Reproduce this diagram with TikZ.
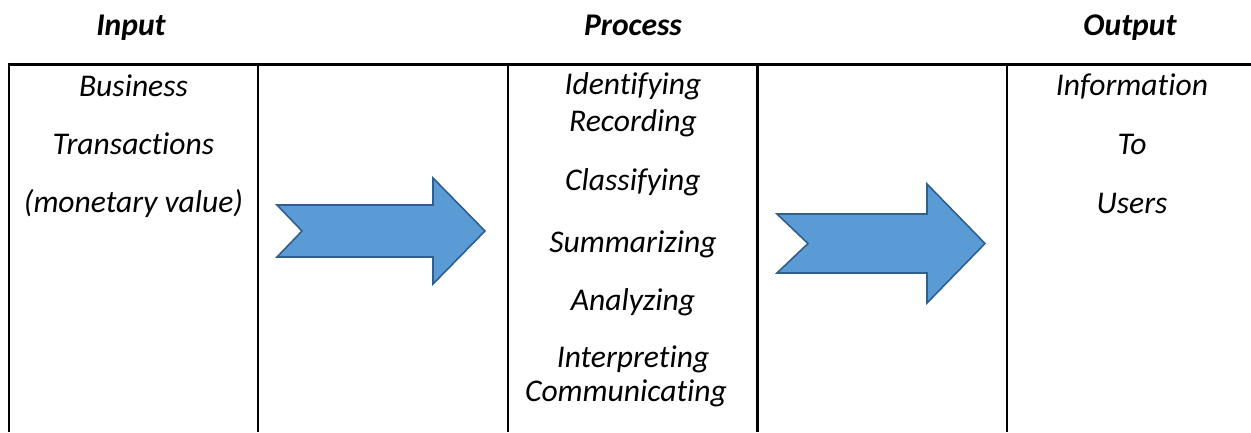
\documentclass[tikz,border=0pt]{standalone}
\usepackage{fontspec}
\setmainfont{Carlito}[Ligatures={NoCommon}]
\begin{document}
\begin{tikzpicture}[x=1pt,y=-1pt,
  rule/.style={line width=2.4pt,black},
  cell/.style={anchor=base,inner sep=0pt,font=\fontsize{31.6}{38}\selectfont\itshape},
  head/.style={anchor=base,inner sep=0pt,font=\fontsize{31.6}{38}\selectfont\bfseries\itshape},
  blockarrow/.style={fill=arrowfill,draw=arrowline,line width=1.6pt,line join=miter}]
\definecolor{arrowfill}{HTML}{5B9BD5}
\definecolor{arrowline}{HTML}{2F5F8A}
\useasboundingbox (0,0) rectangle (1251,432);

% column headings
\node[head] (hin)  at (131,35)  {Input};
\node[head] (hpro) at (633,35)  {Process};
\node[head] (hout) at (1130,35) {Output};

% table rules (open at the bottom and right)
\draw[rule] (7.8,64.5) -- (1251,64.5);
\foreach \cx in {9,258,508,757.5,1007}
  \draw[rule] (\cx,64.5) -- (\cx,432);

% input column
\node[cell] (b1) at (133.5,96)  {Business};
\node[cell] (b2) at (133.5,154) {Transactions};
\node[cell] (b3) at (133.5,212) {(monetary value)};

% process column
\node[cell] (p1) at (633,94)  {Identifying};
\node[cell] (p2) at (633,131) {Recording};
\node[cell] (p3) at (633,190) {Classifying};
\node[cell] (p4) at (633,252) {Summarizing};
\node[cell] (p5) at (633,310) {Analyzing};
\node[cell] (p6) at (633,367) {Interpreting};
\node[cell] (p7) at (626,401) {Communicating};

% output column
\node[cell] (o1) at (1132,95)  {Information};
\node[cell] (o2) at (1132,154) {To};
\node[cell] (o3) at (1132,213) {Users};

% notched block arrows
\draw[blockarrow] (277,205) -- (433,205) -- (433,178) -- (485,231) -- (433,284)
  -- (433,257) -- (277,257) -- (302,231) -- cycle;
\draw[blockarrow] (777,214) -- (927,214) -- (927,184) -- (985,243.5) -- (927,303)
  -- (927,273) -- (777,273) -- (808,243.5) -- cycle;
\end{tikzpicture}
\end{document}
